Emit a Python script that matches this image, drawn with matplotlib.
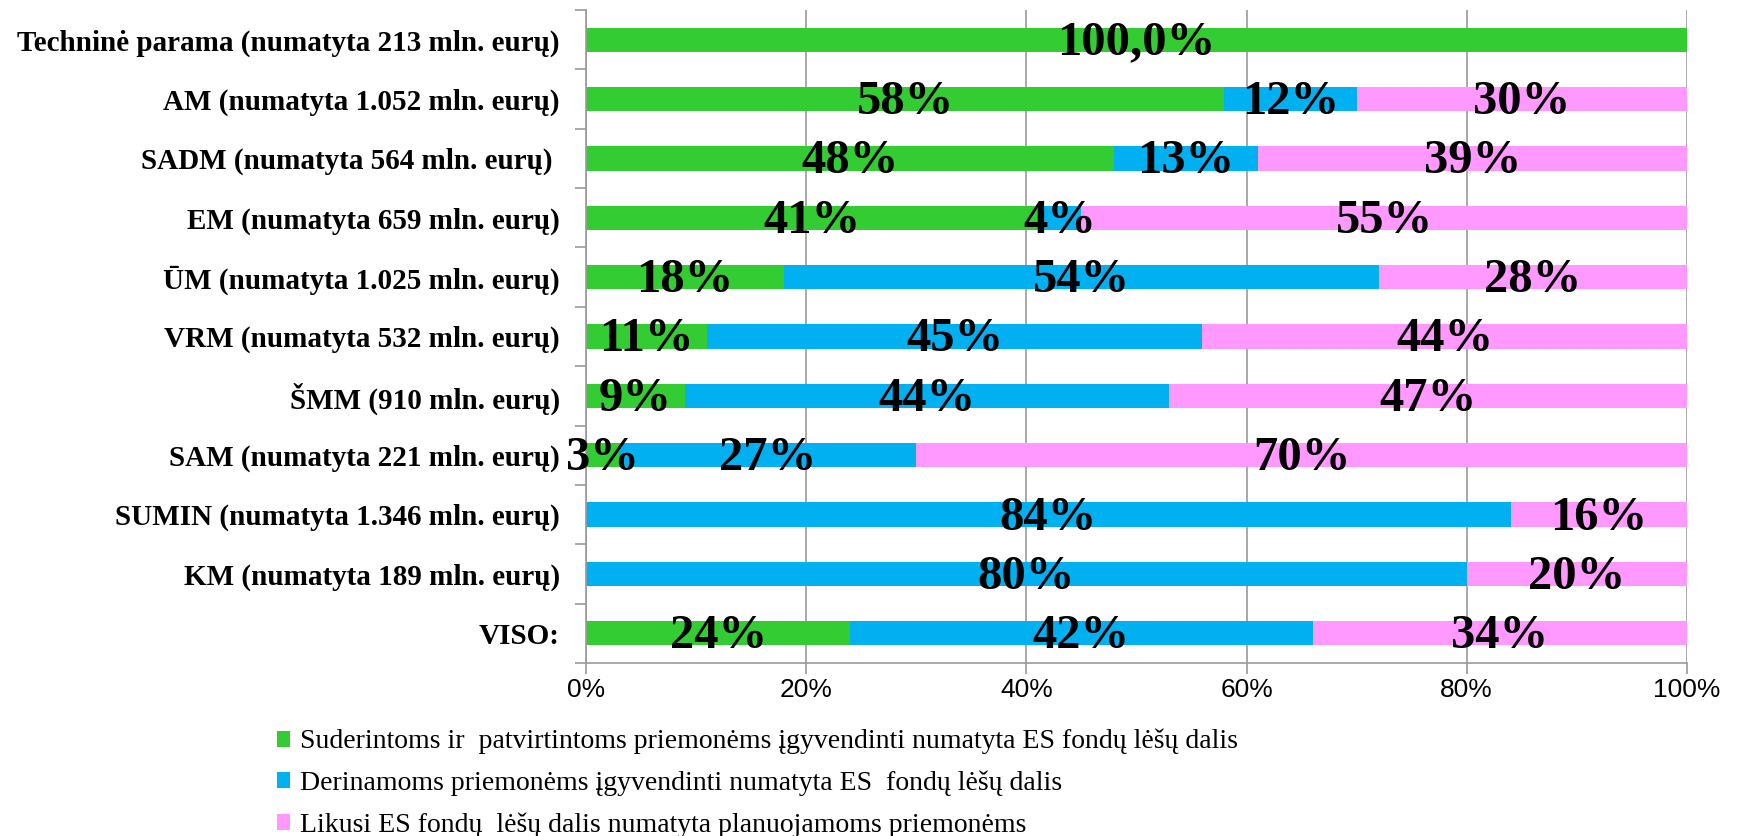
import matplotlib
matplotlib.use("Agg")
import matplotlib.pyplot as plt
import numpy as np

# Categories, top to bottom
categories = [
    "Techninė parama (numatyta 213 mln. eurų)",
    "AM (numatyta 1.052 mln. eurų)",
    "SADM (numatyta 564 mln. eurų) ",
    "EM (numatyta 659 mln. eurų)",
    "ŪM (numatyta 1.025 mln. eurų)",
    "VRM (numatyta 532 mln. eurų)",
    "ŠMM (910 mln. eurų)",
    "SAM (numatyta 221 mln. eurų)",
    "SUMIN (numatyta 1.346 mln. eurų)",
    "KM (numatyta 189 mln. eurų)",
    "VISO:",
]

# shares in percent
approved = [100, 58, 48, 41, 18, 11, 9, 3, 0, 0, 24]
in_progress = [0, 12, 13, 4, 54, 45, 44, 27, 84, 80, 42]
remaining = [0, 30, 39, 55, 28, 44, 47, 70, 16, 20, 34]

series_names = [
    "Suderintoms ir  patvirtintoms priemonėms įgyvendinti numatyta ES fondų lėšų dalis",
    "Derinamoms priemonėms įgyvendinti numatyta ES  fondų lėšų dalis",
    "Likusi ES fondų  lėšų dalis numatyta planuojamoms priemonėms",
]
colors = ["#33CC33", "#00B0F0", "#FF99FF"]

serif = ["Liberation Serif", "DejaVu Serif"]

fig = plt.figure(figsize=(17.39, 8.36), dpi=100)
ax = fig.add_axes([0.337, 0.207, 0.633, 0.781])

y = np.arange(len(categories))
left = np.zeros(len(categories))
for vals, name, col in zip([approved, in_progress, remaining], series_names, colors):
    vals = np.array(vals, dtype=float)
    ax.barh(y, vals / 100, left=left, height=0.41, color=col, label=name, zorder=2)
    for i, v in enumerate(vals):
        if v <= 0:
            continue
        txt = "100,0%" if v == 100 else f"{v:.0f}%"
        ax.text((left[i] + v / 200), y[i] + 0.05, txt, ha="center", va="center",
                fontsize=35, fontweight="bold", family=serif, zorder=3)
    left += vals / 100

ax.set_xlim(0, 1)
ax.set_ylim(len(categories) - 0.5, -0.5)
ax.set_xticks(np.linspace(0, 1, 6))
ax.set_xticklabels([f"{int(t)}%" for t in np.linspace(0, 100, 6)],
                   fontsize=19, family=["Liberation Sans", "DejaVu Sans"])
ax.set_yticks(y)
ax.set_yticklabels(categories, fontsize=21, fontweight="bold", family=serif)
ax.tick_params(axis="y", length=0, pad=19)
ax.set_yticks(np.arange(-0.5, len(categories), 1), minor=True)
ax.tick_params(axis="y", which="minor", length=8, color="#999999", width=1.2)
ax.tick_params(axis="x", length=8, color="#999999", width=1.2, pad=3)

ax.grid(axis="x", color="#999999", linewidth=1.2, zorder=0)
for s in ["top", "right"]:
    ax.spines[s].set_visible(False)
for s in ["left", "bottom"]:
    ax.spines[s].set_color("#999999")
    ax.spines[s].set_linewidth(1.2)

fig.legend(loc="upper left", bbox_to_anchor=(0.159, 0.128), frameon=False,
           prop={"family": serif, "size": 20}, handlelength=0.5, handleheight=0.5,
           handletextpad=0.35, labelspacing=0.58, borderpad=0, borderaxespad=0)

fig.savefig("out.png", dpi=100)
